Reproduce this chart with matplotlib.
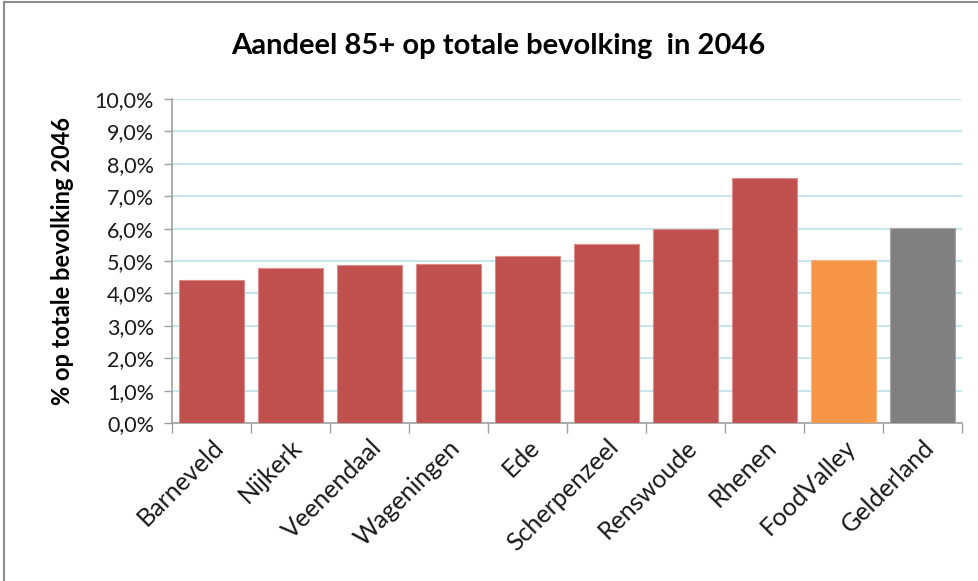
import numpy as np
import matplotlib.pyplot as plt
from matplotlib.lines import Line2D
from matplotlib.ticker import FuncFormatter

gemeenten = ['Barneveld', 'Nijkerk', 'Veenendaal', 'Wageningen', 'Ede',
             'Scherpenzeel', 'Renswoude', 'Rhenen', 'FoodValley', 'Gelderland']
aandeel = [4.40, 4.79, 4.87, 4.91, 5.15, 5.51, 5.98, 7.55, 5.03, 6.01]
kleuren = ['#C0504D'] * 8 + ['#F79646', '#808080']
randen = ['#D98C8A'] * 8 + ['#F9B57E', '#A6A6A6']

plt.rcParams['font.family'] = ['Lato', 'DejaVu Sans']

fig = plt.figure(figsize=(9.79, 5.81), dpi=100)
ax = fig.add_axes([172/979, 158/581, 790/979, 324/581])

x = np.arange(len(gemeenten))
ax.bar(x, aandeel, width=0.82, color=kleuren, edgecolor=randen, linewidth=0.8, zorder=3)

ax.set_xlim(-0.5, len(gemeenten) - 0.5)
ax.set_ylim(0, 10)
ax.set_yticks(np.arange(0, 11, 1))
ax.yaxis.set_major_formatter(FuncFormatter(lambda v, p: f'{v:.1f}%'.replace('.', ',')))
ax.grid(axis='y', color='#BEE0EA', linewidth=1.2, zorder=0)

# tick marks between categories, labels at the centres
ax.set_xticks(np.arange(-0.5, len(gemeenten)), labels=[''] * (len(gemeenten) + 1))
ax.set_xticks(x, labels=gemeenten, minor=True)
ax.tick_params(axis='x', which='major', length=7, color='#A0A0A0', width=1)
ax.tick_params(axis='x', which='minor', length=0, pad=9, labelsize=18, labelcolor='#1a1a1a')
for lab in ax.get_xticklabels(minor=True):
    lab.set_rotation(45)
    lab.set_ha('right')
    lab.set_rotation_mode('anchor')
ax.tick_params(axis='y', length=6, color='#A0A0A0', width=1, labelsize=15.5,
               labelcolor='#1a1a1a', pad=7)

for s in ['top', 'right']:
    ax.spines[s].set_visible(False)
for s in ['left', 'bottom']:
    ax.spines[s].set_color('#A0A0A0')
    ax.spines[s].set_linewidth(1.2)

ax.set_ylabel('% op totale bevolking 2046', fontsize=17, fontweight='bold', labelpad=15)
fig.text(498/979, 1 - 46/581, 'Aandeel 85+ op totale bevolking  in 2046',
         ha='center', va='center', fontsize=21, fontweight='bold')

# chart border
fig.add_artist(Line2D([4/979, 1], [1 - 2/581, 1 - 2/581], color='#8C8C8C', linewidth=1.5))
fig.add_artist(Line2D([4/979, 4/979], [0, 1 - 2/581], color='#8C8C8C', linewidth=1.5))

fig.savefig('out.png', dpi=100)
